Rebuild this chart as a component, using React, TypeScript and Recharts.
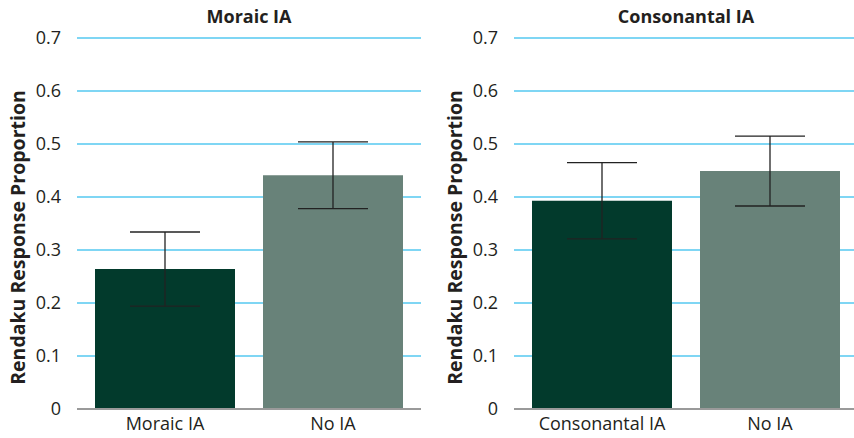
import React from "react";
import { BarChart, Bar, XAxis, YAxis, CartesianGrid, ErrorBar, Cell } from "recharts";

const moraicCategories = ["Moraic IA", "No IA"];
const moraicValues = [0.264, 0.441];
const moraicErrors = [0.07, 0.063];

const consonantalCategories = ["Consonantal IA", "No IA"];
const consonantalValues = [0.393, 0.449];
const consonantalErrors = [0.072, 0.066];

const yTicks = [0, 0.1, 0.2, 0.3, 0.4, 0.5, 0.6, 0.7];
const barColors = ["#023a2c", "#688279"];
const titles = ["Moraic IA", "Consonantal IA"];
const yLabel = "Rendaku Response Proportion";

const FONT = "'Open Sans', sans-serif";
const TEXT = "#231f20";

function build(cats: string[], vals: number[], errs: number[]) {
  return cats.map((c, i) => ({ name: c, value: vals[i], err: errs[i] }));
}

const fmt = (v: number) => (v === 0 ? "0" : v.toFixed(1));

function Panel({ data, left, title }: { data: any[]; left: number; title: string }) {
  const W = 437;
  return (
    <div style={{ position: "absolute", left, top: 0, width: W, height: 438 }}>
      <div
        style={{
          position: "absolute",
          left: 77,
          width: 344,
          top: 2,
          textAlign: "center",
          fontFamily: FONT,
          fontWeight: 700,
          fontSize: 18,
          color: TEXT,
          lineHeight: "28px",
        }}
      >
        {title}
      </div>
      <BarChart
        width={W}
        height={438}
        data={data}
        margin={{ top: 38, right: W - 421, bottom: 0, left: 0 }}
        barCategoryGap={14}
      >
        <CartesianGrid vertical={false} stroke="#55c8f0" strokeWidth={1.4} />
        <XAxis
          dataKey="name"
          height={29}
          padding={{ left: 4, right: 4 }}
          tickLine={false}
          axisLine={{ stroke: "#9a9a9a", strokeWidth: 2 }}
          tick={{ fontFamily: FONT, fontSize: 18, fill: TEXT }}
          tickMargin={2}
          interval={0}
        />
        <YAxis
          width={77}
          domain={[0, 0.7]}
          ticks={yTicks}
          tickFormatter={fmt}
          axisLine={false}
          tickLine={false}
          tickMargin={10}
          tick={{ fontFamily: FONT, fontSize: 18, fill: TEXT }}
          label={{
            content: ({ viewBox }: any) => {
              const x = viewBox.x + 17;
              const y = viewBox.y + viewBox.height / 2 + 14;
              return (
                <text
                  x={x}
                  y={y}
                  transform={`rotate(-90 ${x} ${y})`}
                  textAnchor="middle"
                  dominantBaseline="central"
                  fontFamily={FONT}
                  fontWeight={700}
                  fontSize={19.5}
                  fill={TEXT}
                >
                  {yLabel}
                </text>
              );
            },
          }}
        />
        <Bar dataKey="value" barSize={140} isAnimationActive={false}>
          {data.map((d, i) => (
            <Cell key={d.name} fill={barColors[i]} />
          ))}
          <ErrorBar dataKey="err" width={35} stroke="#222" strokeWidth={1.3} isAnimationActive={false} />
        </Bar>
      </BarChart>
    </div>
  );
}

export default function App() {
  return (
    <div
      style={{
        position: "absolute",
        left: 0,
        top: 0,
        width: 854,
        height: 438,
        overflow: "hidden",
        background: "#fff",
      }}
    >
      <Panel data={build(moraicCategories, moraicValues, moraicErrors)} left={0} title={titles[0]} />
      <Panel data={build(consonantalCategories, consonantalValues, consonantalErrors)} left={437} title={titles[1]} />
    </div>
  );
}
